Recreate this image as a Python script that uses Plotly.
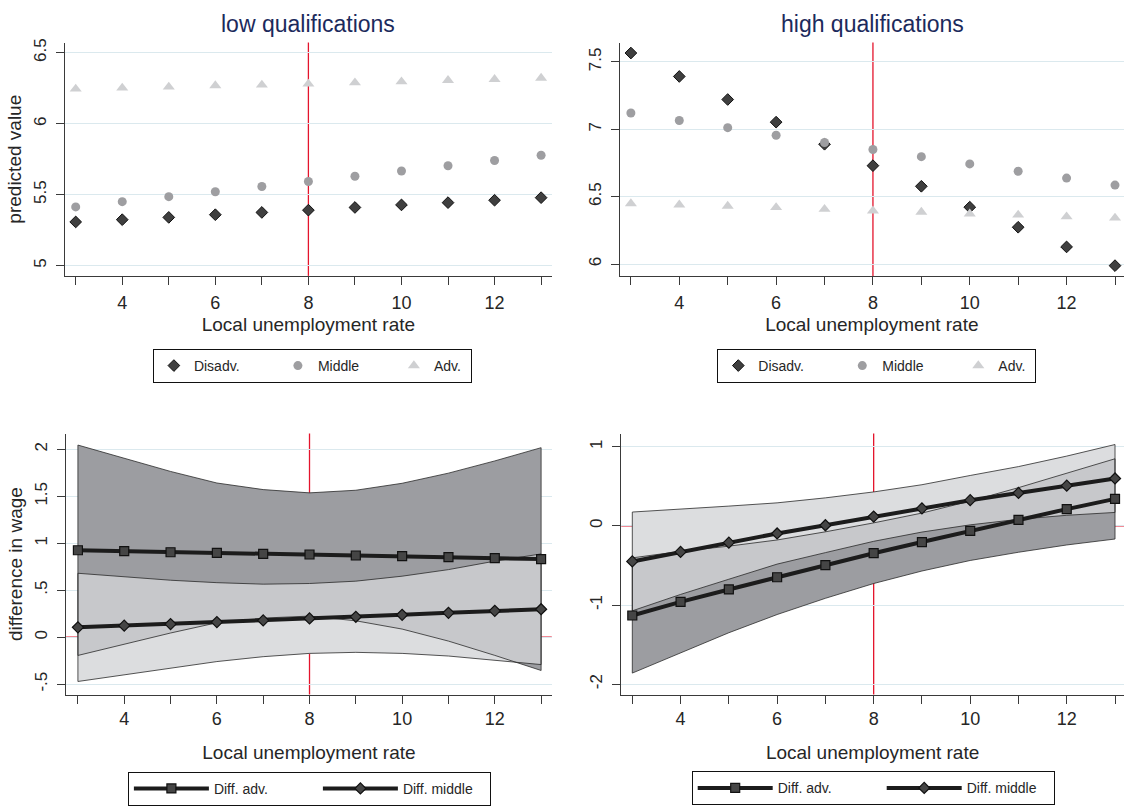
import plotly.graph_objects as go

# ---------------- data ----------------
x_rate = [3, 4, 5, 6, 7, 8, 9, 10, 11, 12, 13]
x_tick_vals = [3, 4, 5, 6, 7, 8, 9, 10, 11, 12, 13]
x_tick_text = ["", "4", "", "6", "", "8", "", "10", "", "12", ""]

# top-left: low qualifications, predicted value
low_disadv = [5.308, 5.324, 5.340, 5.359, 5.375, 5.391, 5.410, 5.428, 5.444, 5.461, 5.479]
low_middle = [5.414, 5.451, 5.486, 5.521, 5.558, 5.593, 5.630, 5.667, 5.704, 5.741, 5.778]
low_adv = [6.245, 6.252, 6.259, 6.269, 6.273, 6.280, 6.289, 6.296, 6.306, 6.313, 6.322]

# top-right: high qualifications, predicted value
high_disadv = [7.566, 7.392, 7.221, 7.053, 6.889, 6.730, 6.577, 6.422, 6.273, 6.127, 5.988]
high_middle = [7.121, 7.065, 7.012, 6.956, 6.902, 6.850, 6.797, 6.743, 6.689, 6.638, 6.586]
high_adv = [6.449, 6.440, 6.430, 6.420, 6.407, 6.395, 6.386, 6.373, 6.364, 6.351, 6.342]

# bottom-left: low qualifications, difference in wage (estimates + CI)
low_diff_adv = [0.926, 0.916, 0.905, 0.898, 0.888, 0.881, 0.870, 0.863, 0.853, 0.842, 0.832]
low_diff_adv_lo = [-0.194, -0.073, 0.045, 0.154, 0.204, 0.225, 0.175, 0.087, -0.041, -0.193, -0.354]
low_diff_adv_hi = [2.046, 1.905, 1.765, 1.642, 1.572, 1.537, 1.565, 1.639, 1.747, 1.877, 2.018]
low_diff_mid = [0.105, 0.123, 0.140, 0.161, 0.179, 0.200, 0.218, 0.239, 0.260, 0.281, 0.298]
low_diff_mid_lo = [-0.471, -0.397, -0.327, -0.259, -0.207, -0.172, -0.161, -0.172, -0.200, -0.248, -0.291]
low_diff_mid_hi = [0.681, 0.643, 0.607, 0.581, 0.565, 0.572, 0.597, 0.650, 0.720, 0.810, 0.887]

# bottom-right: high qualifications, difference in wage (estimates + CI)
high_diff_adv = [-1.132, -0.961, -0.803, -0.649, -0.495, -0.345, -0.204, -0.062, 0.075, 0.212, 0.341]
high_diff_adv_lo = [-1.860, -1.600, -1.350, -1.120, -0.915, -0.728, -0.570, -0.437, -0.333, -0.241, -0.166]
high_diff_adv_hi = [-0.404, -0.322, -0.256, -0.178, -0.075, 0.038, 0.162, 0.313, 0.483, 0.665, 0.848]
high_diff_mid = [-0.449, -0.329, -0.212, -0.096, 0.008, 0.117, 0.221, 0.325, 0.416, 0.508, 0.599]
high_diff_mid_lo = [-1.073, -0.866, -0.674, -0.483, -0.338, -0.195, -0.078, 0.013, 0.083, 0.134, 0.170]
high_diff_mid_hi = [0.175, 0.208, 0.250, 0.291, 0.354, 0.429, 0.520, 0.637, 0.749, 0.882, 1.028]

y_ticks_tl = [5, 5.5, 6, 6.5]
y_text_tl = ["5", "5.5", "6", "6.5"]
y_ticks_tr = [6, 6.5, 7, 7.5]
y_text_tr = ["6", "6.5", "7", "7.5"]
y_ticks_bl = [-0.5, 0, 0.5, 1, 1.5, 2]
y_text_bl = ["-.5", "0", ".5", "1", "1.5", "2"]
y_ticks_br = [-2, -1, 0, 1]
y_text_br = ["-2", "-1", "0", "1"]

# ---------------- styling ----------------
FONT = "Liberation Sans, Arial, sans-serif"
TXT = "#262626"
AXC = "#3a3a3a"
GRID = "#dbe9ee"
RED = "#e4142c"
DIS_C = "#3f3f3f"
MID_C = "#9e9ea1"
ADV_C = "#cfd0d2"
BAND_DARK = "rgb(156,157,161)"
BAND_LIGHT = "rgba(210,212,214,0.79)"
EDGE = "#2a2a2a"
LINE_C = "#1c1c1c"
MARK_C = "#454545"

fig = go.Figure()

# ---------- top panels: scatter markers ----------
def add_top(xa, ya, dis, mid, adv, leg):
    fig.add_trace(go.Scatter(x=x_rate, y=dis, mode="markers", name="Disadv.",
                             marker=dict(symbol="diamond", size=9, color=DIS_C,
                                         line=dict(color="#111111", width=1)),
                             xaxis=xa, yaxis=ya, legend=leg, legendwidth=79))
    fig.add_trace(go.Scatter(x=x_rate, y=mid, mode="markers", name="Middle",
                             marker=dict(symbol="circle", size=9, color=MID_C),
                             xaxis=xa, yaxis=ya, legend=leg, legendwidth=71))
    fig.add_trace(go.Scatter(x=x_rate, y=adv, mode="markers", name="Adv.",
                             marker=dict(symbol="triangle-up", size=10.5, color=ADV_C),
                             xaxis=xa, yaxis=ya, legend=leg, legendwidth=32))

add_top("x", "y", low_disadv, low_middle, low_adv, "legend")
add_top("x2", "y2", high_disadv, high_middle, high_adv, "legend2")

# ---------- bottom panels: CI bands + lines ----------
def band(xa, ya, lo, hi, color):
    fig.add_trace(go.Scatter(x=x_rate + x_rate[::-1], y=hi + lo[::-1], mode="lines",
                             fill="toself", fillcolor=color, line=dict(width=0),
                             hoverinfo="skip", showlegend=False, xaxis=xa, yaxis=ya))

def edges(xa, ya, lo, hi):
    fig.add_trace(go.Scatter(x=x_rate + x_rate[::-1] + [x_rate[0]], y=hi + lo[::-1] + [hi[0]],
                             mode="lines", line=dict(color=EDGE, width=0.8),
                             hoverinfo="skip", showlegend=False, xaxis=xa, yaxis=ya))

def add_bottom(xa, ya, adv, adv_lo, adv_hi, mid, mid_lo, mid_hi, leg):
    band(xa, ya, mid_lo, mid_hi, "white")          # opaque base so reference lines stay hidden
    band(xa, ya, adv_lo, adv_hi, BAND_DARK)
    band(xa, ya, mid_lo, mid_hi, BAND_LIGHT)
    edges(xa, ya, adv_lo, adv_hi)
    edges(xa, ya, mid_lo, mid_hi)
    fig.add_trace(go.Scatter(x=x_rate, y=adv, mode="lines+markers", name="Diff. adv.",
                             line=dict(color=LINE_C, width=4),
                             marker=dict(symbol="square", size=9, color=MARK_C,
                                         line=dict(color="#111111", width=1.2)),
                             xaxis=xa, yaxis=ya, legend=leg, legendwidth=99))
    fig.add_trace(go.Scatter(x=x_rate, y=mid, mode="lines+markers", name="Diff. middle",
                             line=dict(color=LINE_C, width=4),
                             marker=dict(symbol="diamond", size=8.5, color=MARK_C,
                                         line=dict(color="#111111", width=1.2)),
                             xaxis=xa, yaxis=ya, legend=leg, legendwidth=82))

add_bottom("x3", "y3", low_diff_adv, low_diff_adv_lo, low_diff_adv_hi,
           low_diff_mid, low_diff_mid_lo, low_diff_mid_hi, "legend3")
add_bottom("x4", "y4", high_diff_adv, high_diff_adv_lo, high_diff_adv_hi,
           high_diff_mid, high_diff_mid_lo, high_diff_mid_hi, "legend4")

# ---------- axes ----------
W, H = 1124, 806

def xaxis(dom, rng, label_off, standoff):
    return dict(domain=dom, range=rng, tickmode="array", tickvals=x_tick_vals, ticktext=x_tick_text,
                ticks="outside", ticklen=8, tickwidth=1.2, tickcolor=AXC,
                showline=True, linecolor=AXC, linewidth=1.3, showgrid=False, zeroline=False,
                tickfont=dict(family=FONT, size=18, color=TXT), ticklabelstandoff=label_off,
                title=dict(text="Local unemployment rate", font=dict(family=FONT, size=19, color=TXT),
                           standoff=standoff))

def yaxis(dom, rng, vals, text, title=None):
    d = dict(domain=dom, range=rng, tickmode="array", tickvals=vals, ticktext=text,
             ticks="outside", ticklen=8, tickwidth=1.2, tickcolor=AXC, tickangle=-90,
             showline=True, linecolor=AXC, linewidth=1.3, showgrid=True, gridcolor=GRID,
             gridwidth=1, zeroline=False, tickfont=dict(family=FONT, size=17, color=TXT),
             ticklabelstandoff=3)
    if title:
        d["title"] = dict(text=title, font=dict(family=FONT, size=19, color=TXT), standoff=4)
    return d

x_tl = [65.0 / W, 551.8 / W]
x_tr = [619.7 / W, 1.0]
x_bl = [66.1 / W, 551.8 / W]
x_br = [621.2 / W, 1.0]
y_top = [1 - 275.3 / H, 1 - 39 / H]
y_bot = [1 - 699.3 / H, 1 - 435 / H]

fig.update_layout(
    xaxis=xaxis(x_tl, [2.770, 13.230], 2, 6),
    yaxis=yaxis(y_top, [4.928, 6.572], y_ticks_tl, y_text_tl, "predicted value"),
    xaxis2=dict(xaxis(x_tr, [2.769, 13.186], 2, 6), anchor="y2"),
    yaxis2=dict(yaxis(y_top, [5.912, 7.644], y_ticks_tr, y_text_tr), anchor="x2"),
    xaxis3=dict(xaxis(x_bl, [2.745, 13.231], 0, 17), anchor="y3"),
    yaxis3=dict(yaxis(y_bot, [-0.611, 2.168], y_ticks_bl, y_text_bl, "difference in wage"), anchor="x3"),
    xaxis4=dict(xaxis(x_br, [2.770, 13.186], 0, 17), anchor="y4"),
    yaxis4=dict(yaxis(y_bot, [-2.132, 1.166], y_ticks_br, y_text_br), anchor="x4"),
)

# ---------- reference lines ----------
shapes = []
for xa in ["x", "x2", "x3", "x4"]:
    ya = "y" + xa[1:]
    shapes.append(dict(type="line", xref=xa, yref=ya + " domain", x0=8, x1=8, y0=0, y1=1,
                       line=dict(color=RED, width=1.3), layer="below"))
for xa in ["x3", "x4"]:
    ya = "y" + xa[1:]
    shapes.append(dict(type="line", xref=xa + " domain", yref=ya, x0=0, x1=1, y0=0, y1=0,
                       line=dict(color=RED, width=1.3), layer="below"))

# ---------- titles ----------
annotations = [
    dict(text="low qualifications", xref="paper", yref="paper", x=(65 + 551.8) / 2 / W,
         y=1 - 20 / H, xanchor="center", yanchor="middle", showarrow=False,
         font=dict(family=FONT, size=23, color="#1c2a5c")),
    dict(text="high qualifications", xref="paper", yref="paper", x=872.5 / W,
         y=1 - 20 / H, xanchor="center", yanchor="middle", showarrow=False,
         font=dict(family=FONT, size=23, color="#1c2a5c")),
]

def legend_cfg(xpx, ypx, itemwidth=30):
    return dict(orientation="h", x=xpx / W, y=1 - ypx / H, xref="paper", yref="paper",
                xanchor="left", yanchor="top", bgcolor="white", bordercolor="#111111",
                borderwidth=1, itemwidth=itemwidth, traceorder="normal",
                font=dict(family=FONT, size=14, color=TXT))

fig.update_layout(
    width=W, height=H, margin=dict(l=0, r=0, t=0, b=0),
    paper_bgcolor="white", plot_bgcolor="white",
    shapes=shapes, annotations=annotations,
    legend=legend_cfg(152.9, 349.3),
    legend2=legend_cfg(717.3, 349.3),
    legend3=legend_cfg(127.9, 777.5, 75),
    legend4=legend_cfg(691.7, 777.0, 75),
    font=dict(family=FONT, color=TXT),
    hovermode=False,
)

fig.write_html("out.html", config={"displayModeBar": False},
               post_script="document.body.style.margin='0px';")
